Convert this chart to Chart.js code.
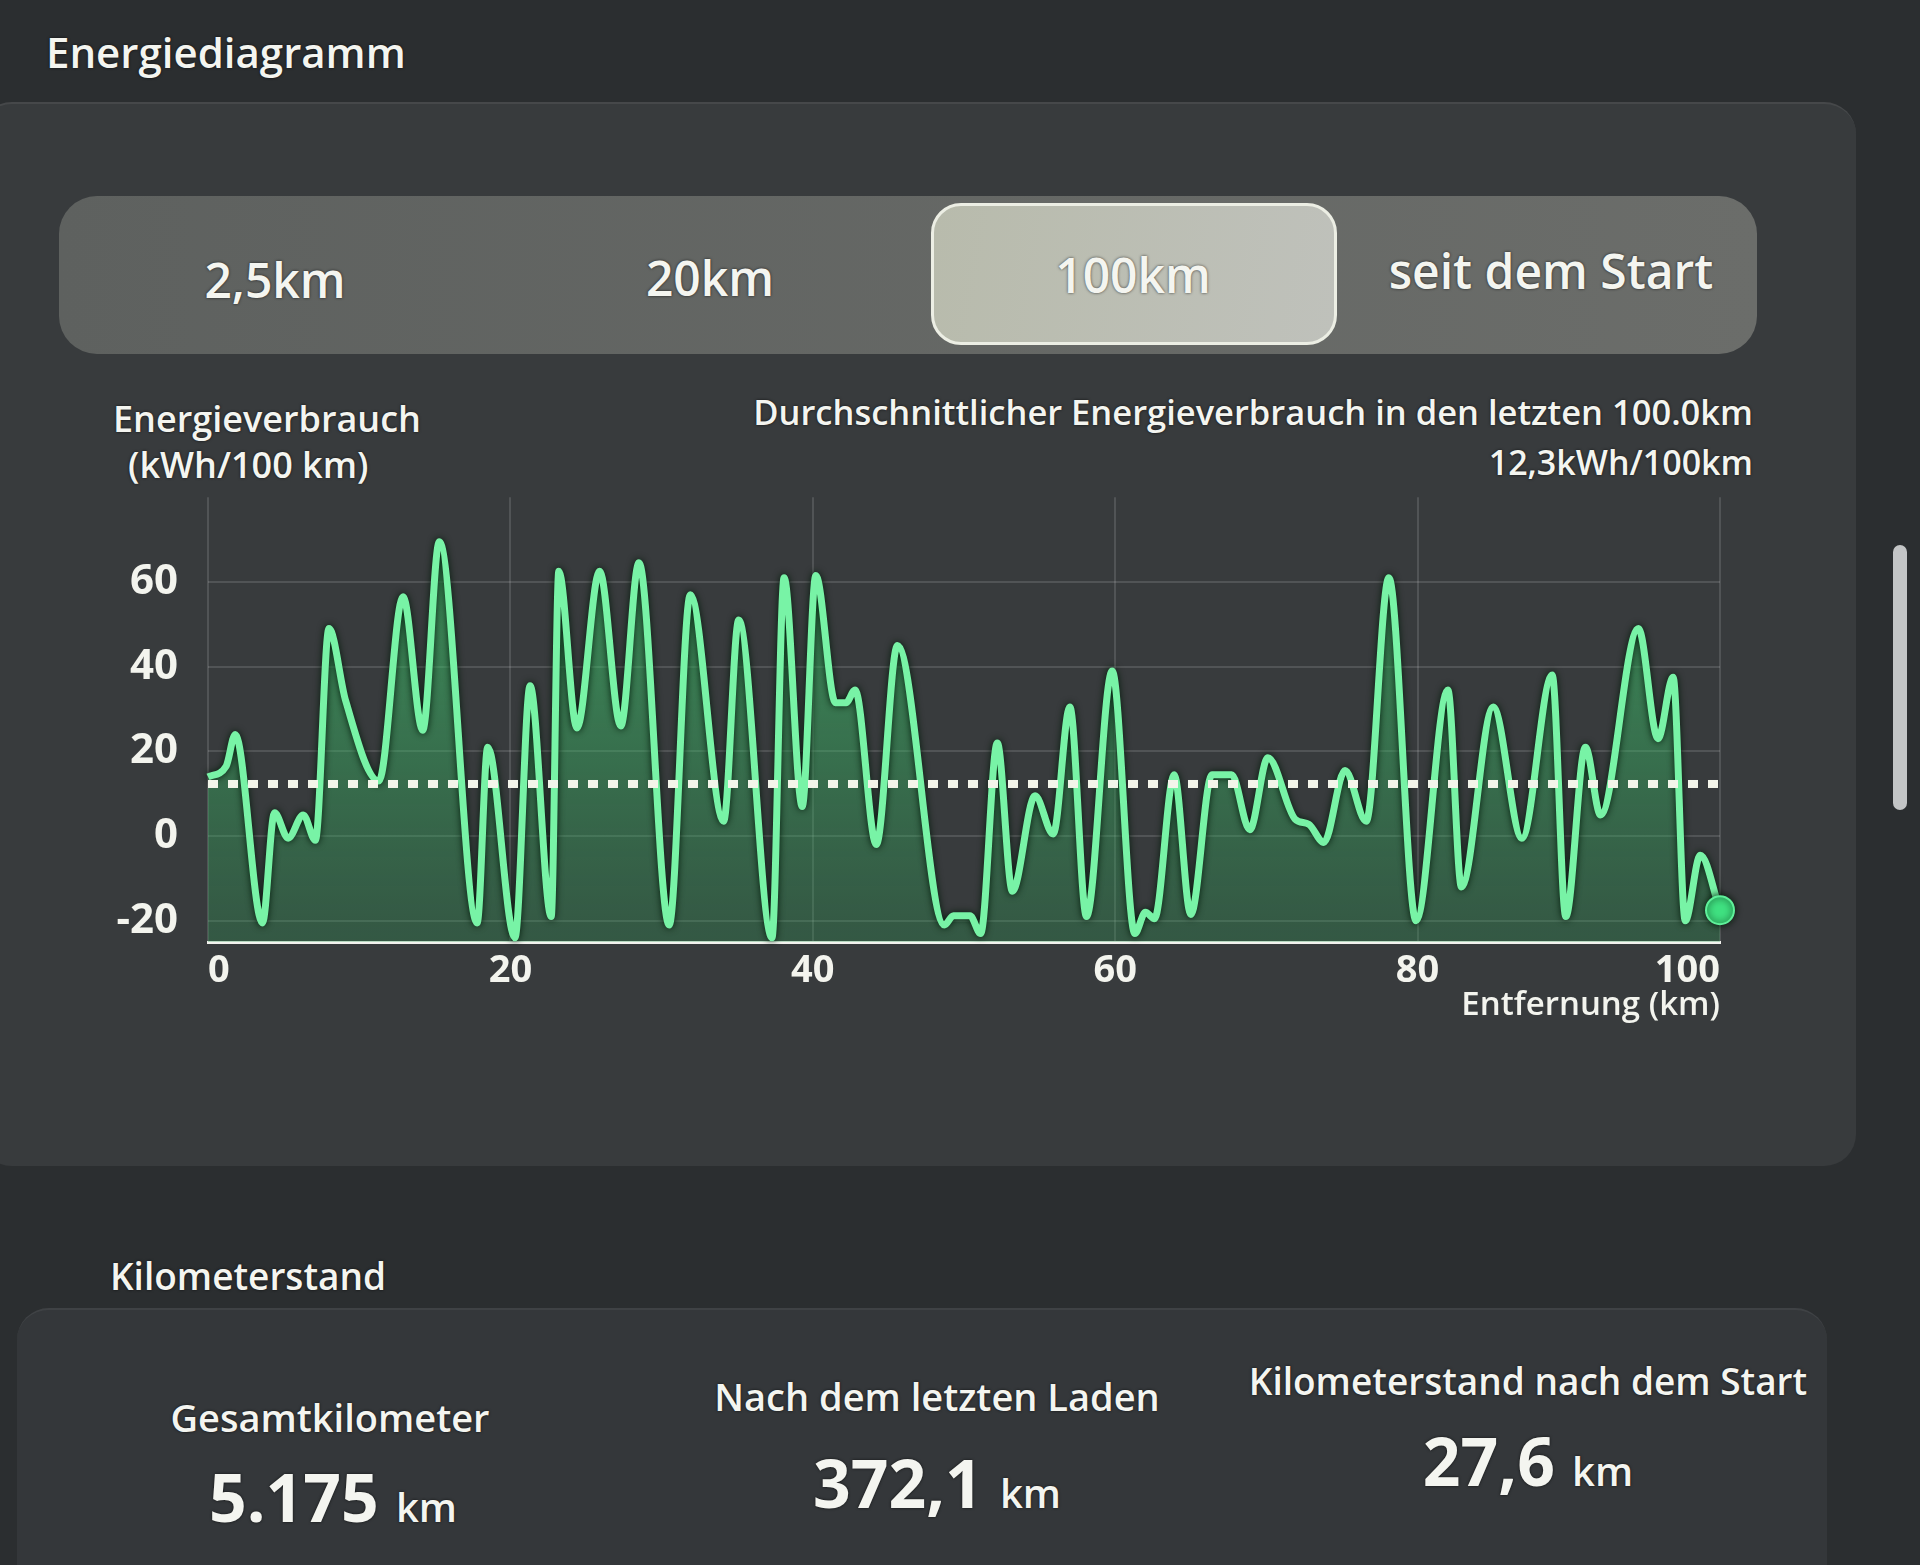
<!DOCTYPE html>
<html lang="de">
<head>
<meta charset="UTF-8">
<title>Energiediagramm</title>
<script src="https://cdn.jsdelivr.net/npm/chart.js"></script>
<style>
  html, body { margin: 0; padding: 0; }
  body {
    width: 1920px; height: 1565px; position: relative; overflow: hidden;
    background: #2b2e30; color: #f4f5f0;
    font-family: "Open Sans", "Noto Sans", sans-serif; font-weight: 600;
  }
  .abs { position: absolute; white-space: nowrap; text-shadow: 0 0 3px rgba(0,0,0,0.7); }
  .panel { position: absolute; border-radius: 32px; }
  #mainPanel { left: -20px; top: 102px; width: 1876px; height: 1062px; background: #383b3d;
               border-top: 2px solid rgba(255,255,255,0.07); }
  #segments { left: 59px; top: 196px; width: 1698px; height: 158px; border-radius: 38px;
              background: linear-gradient(90deg, #5e615f, #6b6d6a); }
  #selected { left: 931px; top: 203px; width: 400px; height: 136px; border-radius: 30px;
              background: linear-gradient(100deg, #b8bbac, #bfc1bb); border: 3px solid #eceee4; }
  #kmPanel { left: 17px; top: 1308px; width: 1810px; height: 320px; background: #34373a;
             border-top: 2px solid rgba(255,255,255,0.06); }
  #scrollbar { position: absolute; left: 1893px; top: 545px; width: 14px; height: 265px;
               border-radius: 7px; background: #c3c5c6; }
  .seg { font-size: 48px; transform: translate(-50%, -50%); }
  .stat-label { font-size: 38px; transform: translate(-50%, -50%); }
  .stat-value { font-size: 66px; font-weight: 700; transform: translate(-50%, -50%); }
  .stat-value span { font-size: 40px; font-weight: 600; }
  #chartBox { position: absolute; left: 100px; top: 442px; width: 1660px; height: 587px; }
</style>
</head>
<body>
<div class="panel" id="mainPanel"></div>
<div class="panel" id="segments"></div>
<div class="panel" id="selected"></div>
<div class="panel" id="kmPanel"></div>
<div id="scrollbar"></div>

<div class="abs" style="left:46px; top:26px; font-size:42px; line-height:52px;">Energiediagramm</div>

<div class="abs seg" style="left:275px; top:279px;">2,5km</div>
<div class="abs seg" style="left:710px; top:277px;">20km</div>
<div class="abs seg" style="left:1133px; top:274px;">100km</div>
<div class="abs seg" style="left:1551px; top:270px;">seit dem Start</div>

<div class="abs" style="left:113px; top:399px; font-size:36px; line-height:40px;">Energieverbrauch</div>
<div class="abs" style="left:128px; top:445px; font-size:36px; line-height:40px;">(kWh/100 km)</div>
<div class="abs" style="right:167px; top:392px; font-size:34.5px; line-height:40px;">Durchschnittlicher Energieverbrauch in den letzten 100.0km</div>
<div class="abs" style="right:167px; top:442px; font-size:34px; line-height:40px;">12,3kWh/100km</div>

<div id="chartBox"><canvas id="energyChart"></canvas></div>

<div class="abs" style="left:110px; top:1254px; font-size:37px; line-height:44px;">Kilometerstand</div>

<div class="abs stat-label" style="left:330px; top:1417px;">Gesamtkilometer</div>
<div class="abs stat-value" style="left:333px; top:1496px;">5.175 <span>km</span></div>
<div class="abs stat-label" style="left:937px; top:1396px;">Nach dem letzten Laden</div>
<div class="abs stat-value" style="left:937px; top:1482px;">372,1 <span>km</span></div>
<div class="abs stat-label" style="left:1528px; top:1380px; font-size:37px;">Kilometerstand nach dem Start</div>
<div class="abs stat-value" style="left:1528px; top:1460px;">27,6 <span>km</span></div>

<script>
// Distance along the last 100 km and consumption (kWh/100 km)
const distanceKm = [0, 1.2, 1.8, 3.6, 4.4, 5.3, 6.3, 7.1, 8.0, 9.1, 11.3, 12.9, 14.2, 15.3, 17.8, 18.5,
  20.3, 21.3, 22.7, 23.2, 24.4, 25.9, 27.3, 28.5, 30.5, 31.9, 34.1, 35.1, 37.3, 38.1, 39.3, 40.2,
  41.5, 42.2, 42.8, 44.2, 45.6, 48.7, 49.3, 50.4, 51.1, 52.2, 53.2, 54.7, 55.9, 57.0, 58.1, 59.8,
  61.3, 62.0, 62.6, 63.9, 65.0, 66.4, 67.7, 68.9, 70.1, 71.9, 72.8, 73.8, 75.2, 76.6, 78.1, 79.9,
  82.0, 82.9, 85.0, 86.9, 88.9, 89.8, 91.1, 92.1, 94.6, 95.9, 96.9, 97.7, 98.7, 100];
const consumption = [14, 16.5, 24, -20.5, 5.5, -0.5, 5, -1, 49, 32, 13, 56.5, 25, 69.5, -20.5, 21,
  -24, 35.5, -19, 62.5, 25.5, 62.5, 26, 64.5, -21, 57, 3.5, 51, -24, 61, 7, 61.5,
  31.5, 31.5, 34.5, -2, 45, -21, -18.8, -18.8, -23, 22, -13, 9.5, 0.5, 30.5, -19, 39,
  -23, -18, -19.5, 14.5, -18.5, 14.5, 14.5, 1.5, 18.5, 4, 2.8, -1.5, 15.5, 3.5, 61, -20,
  34.5, -12, 30.5, -0.5, 38, -19, 21, 5, 49, 23, 37.5, -20, -4.5, -17.5];
const averageConsumption = 12.3;
const xTicks = [0, 20, 40, 60, 80, 100];
const yTicks = [-20, 0, 20, 40, 60];

const lineGlow = {
  id: 'lineGlow',
  beforeDatasetDraw(chart, args) {
    if (args.index !== 0) return;
    chart.ctx.save();
    chart.ctx.shadowColor = 'rgba(0, 25, 10, 0.95)';
    chart.ctx.shadowBlur = 7;
  },
  afterDatasetDraw(chart, args) {
    if (args.index !== 0) return;
    chart.ctx.restore();
  }
};

const ctx = document.getElementById('energyChart').getContext('2d');
const lastIndex = distanceKm.length - 1;

new Chart(ctx, {
  type: 'line',
  data: {
    datasets: [{
      label: 'Energieverbrauch',
      data: distanceKm.map((x, i) => ({ x: x, y: consumption[i] })),
      borderColor: '#78f3a6',
      borderWidth: 7,
      cubicInterpolationMode: 'monotone',
      clip: 24,
      fill: 'start',
      backgroundColor: function(context) {
        const area = context.chart.chartArea;
        if (!area) return 'rgba(60, 190, 110, 0.38)';
        const g = context.chart.ctx.createLinearGradient(0, area.top, 0, area.bottom);
        g.addColorStop(0, 'rgba(70, 220, 120, 0.6)');
        g.addColorStop(1, 'rgba(45, 155, 85, 0.3)');
        return g;
      },
      pointRadius: c => c.dataIndex === lastIndex ? 14 : 0,
      pointBackgroundColor: '#3fe080',
      pointBorderColor: '#5ff09a',
      pointBorderWidth: 2,
      order: 1
    }, {
      label: 'Durchschnitt',
      data: [{ x: xTicks[0], y: averageConsumption }, { x: xTicks[xTicks.length - 1], y: averageConsumption }],
      borderColor: '#f3f5ea',
      borderWidth: 8,
      borderDash: [10, 10],
      pointRadius: 0,
      fill: false,
      order: 0
    }]
  },
  options: {
    responsive: true,
    maintainAspectRatio: false,
    animation: false,
    layout: { padding: { top: 13, right: 40, left: 0, bottom: 0 } },
    plugins: {
      legend: { display: false },
      tooltip: { enabled: false }
    },
    scales: {
      x: {
        type: 'linear',
        min: 0,
        max: 100,
        afterBuildTicks: scale => { scale.ticks = xTicks.map(v => ({ value: v })); },
        afterFit: scale => { scale.height = 87; },
        grid: { color: 'rgba(255,255,255,0.13)', lineWidth: 2, drawTicks: false },
        border: { display: true, color: '#f2f2ee', width: 3 },
        ticks: {
          align: 'inner',
          padding: 6,
          color: '#f3f4ee',
          font: { family: 'Open Sans', size: 38, weight: '700' }
        },
        title: {
          display: true,
          text: 'Entfernung (km)',
          align: 'end',
          color: '#f3f4ee',
          padding: { top: 0, bottom: 4 },
          font: { family: 'Open Sans', size: 33, weight: '600' }
        }
      },
      y: {
        min: -25,
        max: 80,
        afterBuildTicks: scale => { scale.ticks = yTicks.map(v => ({ value: v })); },
        afterFit: scale => { scale.width = 108; },
        grid: { color: 'rgba(255,255,255,0.13)', lineWidth: 2, drawTicks: false },
        border: { display: false },
        ticks: {
          padding: 30,
          color: '#f3f4ee',
          font: { family: 'Open Sans', size: 42, weight: '700' }
        }
      }
    }
  },
  plugins: [lineGlow]
});
</script>
</body>
</html>
